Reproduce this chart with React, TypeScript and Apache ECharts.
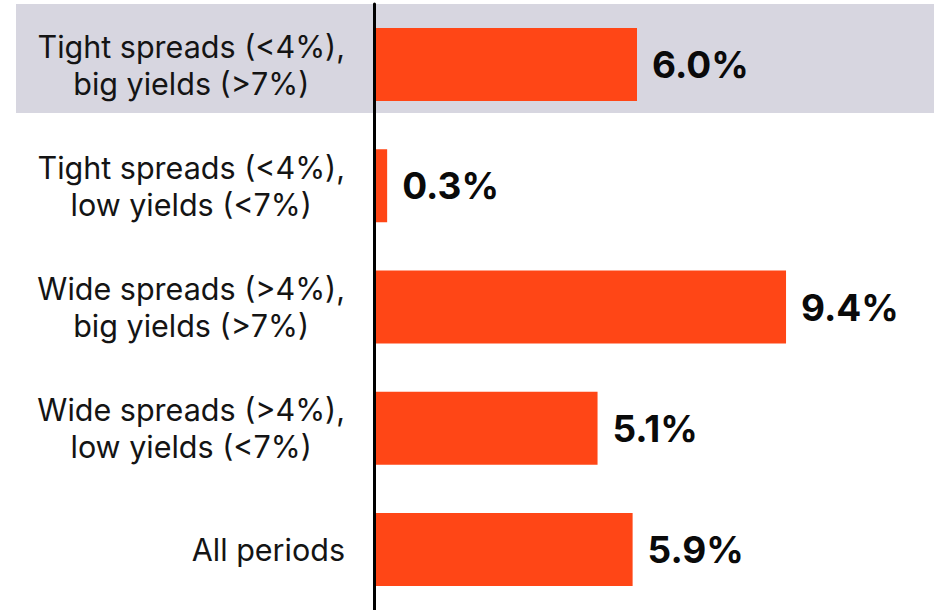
import React, { useEffect, useRef } from "react";
import * as echarts from "echarts";

const categories: string[][] = [
  ["Tight spreads (<4%),", "big yields (>7%)"],
  ["Tight spreads (<4%),", "low yields (<7%)"],
  ["Wide spreads (>4%),", "big yields (>7%)"],
  ["Wide spreads (>4%),", "low yields (<7%)"],
  ["All periods"],
];
const values: number[] = [6.0, 0.3, 9.4, 5.1, 5.9];

export default function App() {
  const ref = useRef<HTMLDivElement>(null);
  useEffect(() => {
    document.body.style.margin = "0";
    const chart = echarts.init(ref.current!, null, { renderer: "svg" });
    const labels = categories.map((c) => c.join("\n"));
    chart.setOption({
      animation: false,
      backgroundColor: "#ffffff",
      graphic: [
        {
          type: "rect",
          z: -10,
          silent: true,
          shape: { x: 16, y: 4, width: 918, height: 109 },
          style: { fill: "#d7d6e0" },
        },
      ],
      grid: { left: 374, right: 34, top: 4, height: 609, containLabel: false },
      xAxis: {
        type: "value",
        min: 0,
        max: 12,
        show: false,
      },
      yAxis: {
        type: "category",
        inverse: true,
        data: labels,
        axisLine: { show: true, lineStyle: { color: "#000000", width: 3 } },
        axisTick: { show: false },
        splitLine: { show: false },
        z: 5,
        axisLabel: {
          margin: 29,
          formatter: (v: string) =>
            v
              .split("\n")
              .map((l) => "{c|" + l + "}")
              .join("\n"),
          rich: {
            c: {
              align: "center",
              fontFamily: "Inter",
              fontSize: 30.5,
              lineHeight: 37,
              color: "#141414",
            },
          },
        },
      },
      series: [
        {
          type: "bar",
          data: values,
          barWidth: 73,
          itemStyle: { color: "#ff4616" },
          z: 2,
          label: {
            show: true,
            position: "right",
            distance: 15,
            formatter: (p: any) => p.value.toFixed(1) + "%",
            fontFamily: "Inter",
            fontWeight: "bold",
            fontSize: 37,
            color: "#0a0a0a",
          },
        },
      ],
    });
    return () => chart.dispose();
  }, []);
  return (
    <div
      ref={ref}
      style={{ position: "fixed", left: 0, top: 0, width: 934, height: 610 }}
    />
  );
}
